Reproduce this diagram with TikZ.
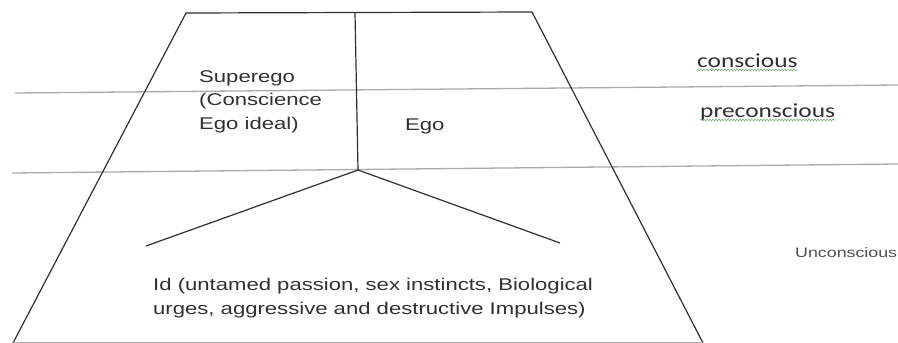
\documentclass[tikz,border=0pt]{standalone}
\usepackage{fontspec}
\setmainfont{Liberation Sans}
\newfontfamily\widefont[FakeStretch=1.3]{Liberation Sans}
\newfontfamily\widecal[FakeStretch=1.27]{Carlito}
\usetikzlibrary{calc,decorations.pathmorphing}
\definecolor{inkgray}{HTML}{303030}
\definecolor{bandgray}{HTML}{ABABAB}
\definecolor{spellgreen}{HTML}{7CB77C}

\begin{document}
\begin{tikzpicture}[x=1pt,y=-1pt,
  mindline/.style={draw=inkgray,line width=1.2pt,line join=miter},
  bandline/.style={draw=bandgray,line width=1.3pt},
  parttext/.style={anchor=base west,inner sep=0pt,text=inkgray,align=left,font=\widefont\fontsize{17}{23.5}\selectfont},
  leveltext/.style={anchor=base west,inner sep=0pt,text=inkgray,font=\widecal\fontsize{20}{24}\selectfont},
  spell/.style={spellgreen,line width=0.6pt,decorate,decoration={snake,amplitude=1pt,segment length=3pt}}]
\useasboundingbox (0,0) rectangle (898,343);
% the mind
\coordinate (TL) at (186,13);
\coordinate (TR) at (532,12);
\coordinate (BR) at (703,343);
\coordinate (BL) at (13,343);
\coordinate (top) at (355,12.7);
\coordinate (fork) at (358,170);
\coordinate (armL) at (146,246);
\coordinate (armR) at (560,243);
% levels of awareness
\coordinate (A1) at (15,93);
\coordinate (A2) at (898,85);
\coordinate (B1) at (12,173);
\coordinate (B2) at (898,164);
\draw[bandline] (A1) -- (A2);
\draw[bandline] (B1) -- (B2);
\draw[mindline] (BL) -- (TL) -- (TR) -- (BR);
\draw[bandline] (BL) -- (BR);
\draw[mindline] (top) -- (fork);
\draw[mindline] (armL) -- (fork) -- (armR);
% texts (base is the last line)
\node[parttext] (superego) at (199,129) {Superego\\(Conscience\\Ego ideal)};
\node[parttext] (ego) at (405,130) {Ego};
\node[parttext] (id) at (153,314) {Id (untamed passion, sex instincts, Biological\\urges, aggressive and destructive Impulses)};
\node[leveltext] (con) at (697,67) {conscious};
\node[leveltext] (precon) at (700,117) {preconscious};
\node[anchor=base west,inner sep=0pt,text=inkgray!85,font=\widefont\fontsize{13.7}{16}\selectfont] (uncon) at (795,257) {Unconscious};
\draw[spell] ($(con.base west)+(0,3)$) -- ($(con.base east)+(0,3)$);
\draw[spell] ($(precon.base west)+(0,3)$) -- ($(precon.base east)+(0,3)$);
\end{tikzpicture}
\end{document}
